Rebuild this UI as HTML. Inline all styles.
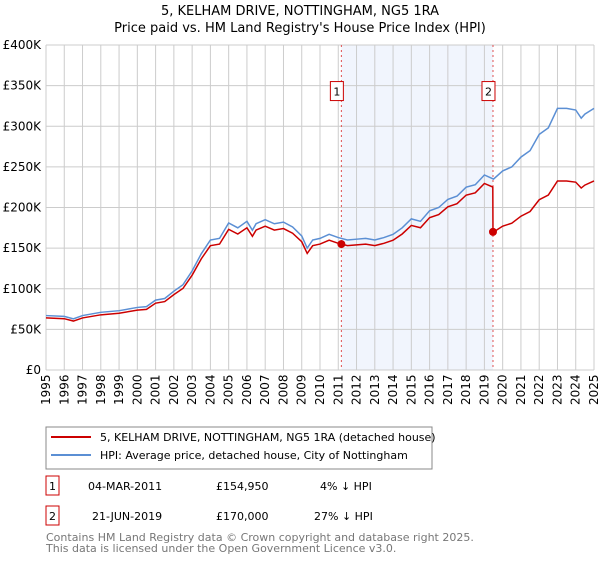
<!DOCTYPE html>
<html><head><meta charset="utf-8"><style>
body{margin:0;background:#fff;font-family:"Liberation Sans","DejaVu Sans",sans-serif;}
</style></head><body>
<svg width="600" height="560" xmlns="http://www.w3.org/2000/svg" font-family="DejaVu Sans, Liberation Sans, sans-serif">
<text x="300" y="15" text-anchor="middle" font-size="13">5, KELHAM DRIVE, NOTTINGHAM, NG5 1RA</text>
<text x="300" y="32" text-anchor="middle" font-size="13">Price paid vs. HM Land Registry's House Price Index (HPI)</text>
<g id="grid"></g>
<g id="marks"></g>
<rect x="46" y="427" width="386" height="42" fill="none" stroke="#888"/>
<line x1="51" y1="437" x2="91" y2="437" stroke="#cc0000" stroke-width="2"/>
<text x="100" y="441" font-size="11">5, KELHAM DRIVE, NOTTINGHAM, NG5 1RA (detached house)</text>
<line x1="51" y1="455" x2="91" y2="455" stroke="#5b8fd4" stroke-width="2"/>
<text x="100" y="459" font-size="11">HPI: Average price, detached house, City of Nottingham</text>
<g font-size="11">
<rect x="46" y="476" width="13" height="19" fill="none" stroke="#cc0000"/>
<text x="52.5" y="490" text-anchor="middle">1</text>
<text x="88" y="490">04-MAR-2011</text><text x="216" y="490">£154,950</text><text x="320" y="490">4% ↓ HPI</text>
<rect x="46" y="506" width="13" height="19" fill="none" stroke="#cc0000"/>
<text x="52.5" y="520" text-anchor="middle">2</text>
<text x="92" y="520">21-JUN-2019</text><text x="216" y="520">£170,000</text><text x="314" y="520">27% ↓ HPI</text>
</g>
<text x="46" y="541" font-size="11" fill="#777">Contains HM Land Registry data © Crown copyright and database right 2025.</text>
<text x="46" y="552" font-size="11" fill="#777">This data is licensed under the Open Government Licence v3.0.</text>
</svg>
<script>
const hpiYears=[1995,1996,1996.5,1997,1998,1999,2000,2000.5,2001,2001.5,2002,2002.5,2003,2003.5,2004,2004.5,2005,2005.5,2006,2006.3,2006.5,2007,2007.5,2008,2008.5,2009,2009.3,2009.6,2010,2010.5,2011,2011.5,2012,2012.5,2013,2013.5,2014,2014.5,2015,2015.5,2016,2016.5,2017,2017.5,2018,2018.5,2019,2019.5,2020,2020.5,2021,2021.5,2022,2022.5,2023,2023.5,2024,2024.3,2024.5,2025];
const hpiValues=[67,66,63,67,71,73,77,78,86,88,97,105,122,143,160,162,181,175,183,172,180,185,180,182,176,165,150,160,162,167,163,160,161,162,160,163,167,175,186,183,196,200,210,214,225,228,240,235,245,250,262,270,290,298,322,322,320,310,315,322];
const saleDates=[2011.17,2019.47];
const salePrices=[154.95,170];
const saleLabels=["1","2"];
const yTicks=[0,50,100,150,200,250,300,350,400];
const yTickLabels=["£0","£50K","£100K","£150K","£200K","£250K","£300K","£350K","£400K"];
const xTicks=[1995,1996,1997,1998,1999,2000,2001,2002,2003,2004,2005,2006,2007,2008,2009,2010,2011,2012,2013,2014,2015,2016,2017,2018,2019,2020,2021,2022,2023,2024,2025];
const NS="http://www.w3.org/2000/svg";
const X=y=>46+(y-1995)*(548/30);
const Y=v=>370-v*(325/400);
function mk(tag,attrs,parent){const e=document.createElementNS(NS,tag);for(const k in attrs)e.setAttribute(k,attrs[k]);parent.appendChild(e);return e;}
const grid=document.getElementById('grid'),marks=document.getElementById('marks');
const shade=mk('rect',{x:X(saleDates[0]),y:Y(400),width:X(saleDates[1])-X(saleDates[0]),height:Y(0)-Y(400),fill:'#eef3fc',opacity:0.8},grid);


yTicks.forEach((t,i)=>{
 const l=mk('line',{x1:46,x2:594,y1:Y(t),y2:Y(t),stroke:'#ccc'},grid);
 
 
 const tx=mk('text',{x:41,y:Y(t)+4,'text-anchor':'end','font-size':12},grid);tx.textContent=yTickLabels[i];
 
 
});
xTicks.forEach(t=>{
 const l=mk('line',{x1:X(t),x2:X(t),y1:Y(400),y2:Y(0),stroke:'#ccc'},grid);
 
 
 const tx=mk('text',{x:0,y:0,'font-size':12,transform:`translate(${X(t)+4},405) rotate(-90)`,'text-anchor':'start'},grid);tx.textContent=t;
 
 
});
function hpiAt(y){for(let i=0;i<hpiYears.length-1;i++){if(y<=hpiYears[i+1]){const f=(y-hpiYears[i])/(hpiYears[i+1]-hpiYears[i]);return hpiValues[i]+f*(hpiValues[i+1]-hpiValues[i]);}}return hpiValues[hpiValues.length-1];}
const r1=salePrices[0]/hpiAt(saleDates[0]),r2=salePrices[1]/hpiAt(saleDates[1]);
let rp=[];
hpiYears.forEach((y,i)=>{if(y<saleDates[1])rp.push([y,hpiValues[i]*r1]);});
rp.push([saleDates[1]-0.01,hpiAt(saleDates[1]-0.01)*r1]);rp.push([saleDates[1],salePrices[1]]);
hpiYears.forEach((y,i)=>{if(y>saleDates[1])rp.push([y,hpiValues[i]*r2]);});
saleDates.forEach((d,i)=>{
 const l=mk('line',{x1:X(d),x2:X(d),y1:Y(400),y2:Y(0),stroke:'#e05050','stroke-dasharray':'2,3'},marks);
 
 
 const b=mk('rect',{x:X(d)-11,y:Y(355),width:13,height:19,fill:'#fff',stroke:'#cc0000'},marks);
 
 
 const t=mk('text',{x:X(d)-4.5,y:Y(355)+14,'text-anchor':'middle','font-size':11},marks);t.textContent=saleLabels[i];
 
 
});
const hp=mk('polyline',{points:hpiYears.map((y,i)=>X(y)+','+Y(hpiValues[i])).join(' '),fill:'none',stroke:'#5b8fd4','stroke-width':1.5},marks);


const pp=mk('polyline',{points:rp.map(p=>X(p[0])+','+Y(p[1])).join(' '),fill:'none',stroke:'#cc0000','stroke-width':1.5},marks);


saleDates.forEach((d,i)=>{
 const c=mk('circle',{cx:X(d),cy:Y(salePrices[i]),r:4,fill:'#cc0000'},marks);
 
 
});
</script>
</body></html>
